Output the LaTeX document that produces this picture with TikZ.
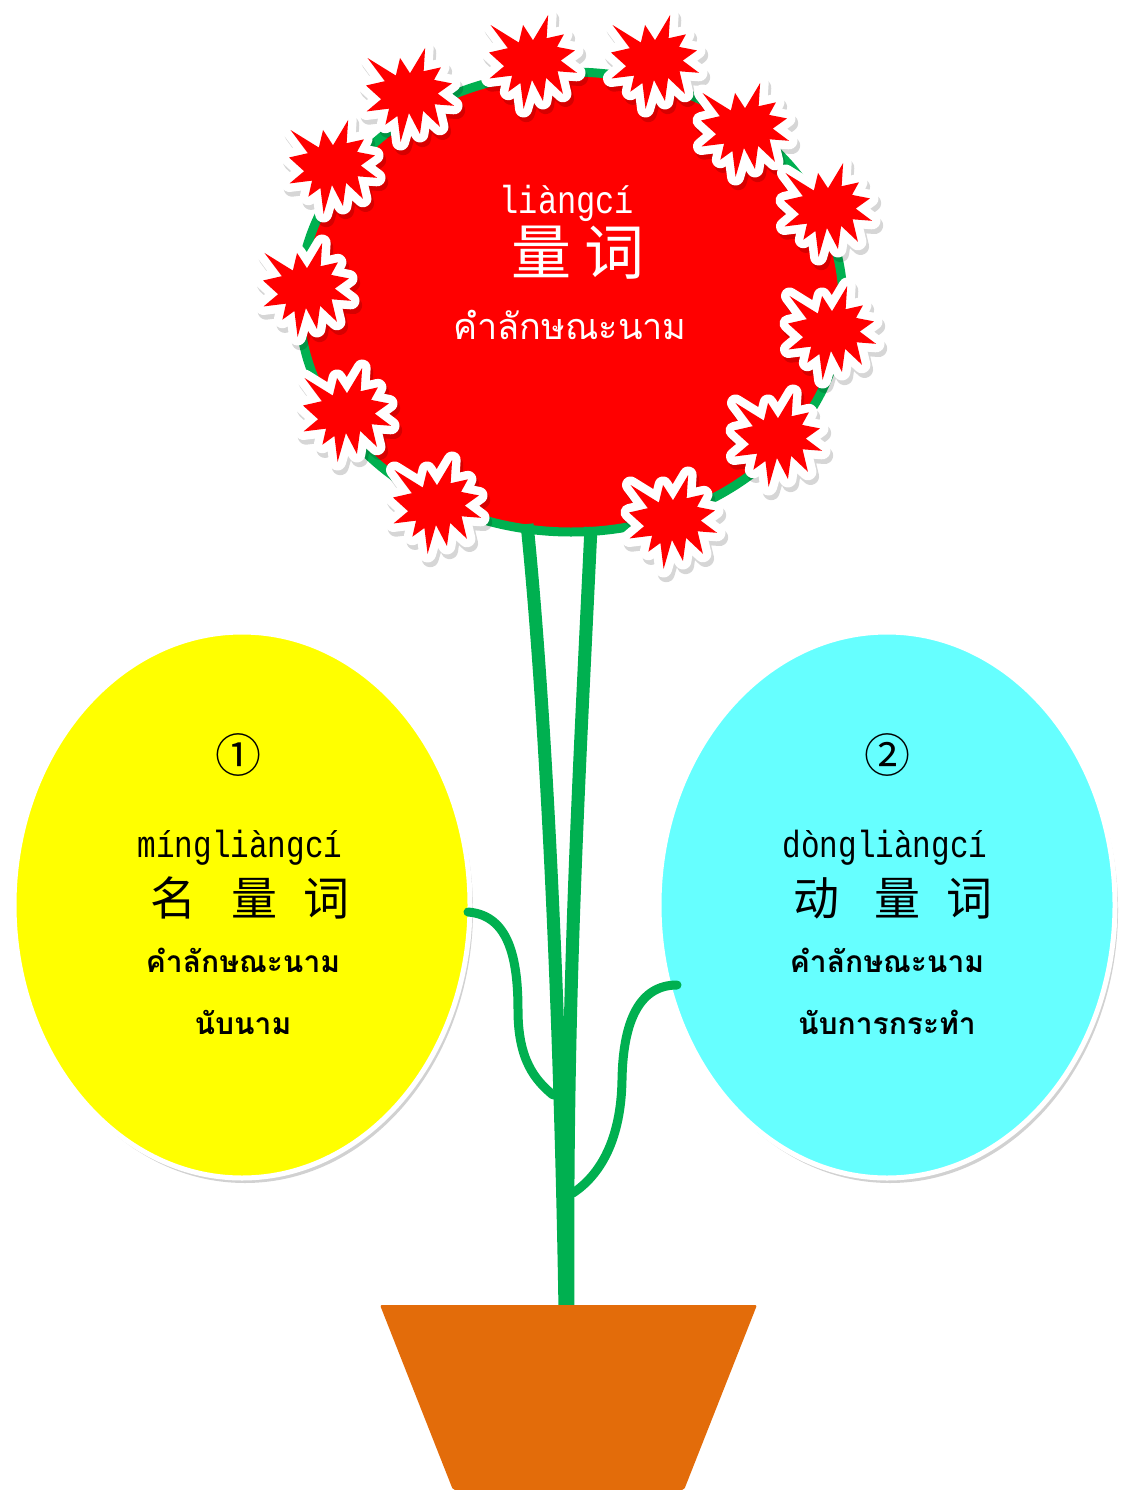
\documentclass[tikz,border=0pt]{standalone}
\usepackage{fontspec}
\newfontfamily\thaifont[Script=Thai]{Loma}
\newfontfamily\cjkfont{Noto Sans CJK SC}
\newfontfamily\pyfont{Liberation Mono}
\usetikzlibrary{shapes.geometric}

\definecolor{stemgreen}{HTML}{00B050}
\definecolor{bloomred}{HTML}{FF0000}
\definecolor{potorange}{HTML}{E36C0A}
\definecolor{leafyellow}{HTML}{FFFF00}
\definecolor{leafcyan}{HTML}{66FFFF}

\tikzset{
  stem/.style={draw=stemgreen, line width=13, line cap=butt},
  branch/.style={draw=stemgreen, line width=9, line cap=round},
  leaf/.style={ellipse, minimum width=456, minimum height=546, draw=white, line width=5, inner sep=0},
  leafshadow/.style={ellipse, minimum width=456, minimum height=546, fill=black, opacity=0.18, inner sep=0},
  txt/.style={inner sep=0, anchor=center},
  pinyin/.style={inner sep=0, anchor=center, yscale=1.22, transform shape},
  % one explosion-shaped petal: soft shadow, white rim, red body
  petal/.pic={
    \filldraw[black, opacity=0.16, line width=17, line join=round, shift={(3,5)}]
      (0,-23.1) -- (17.2,-50) -- (15.5,-25.3) -- (35.1,-29.4) -- (27.3,-16.1) -- (47.7,-12.3)
      -- (31.5,-1.5) -- (50,11.5) -- (27.9,9.9) -- (34.0,33.8) -- (14.9,16.9) -- (11.3,41.4)
      -- (-1.2,19.1) -- (-10.7,50) -- (-14.3,22.3) -- (-28.0,31.6) -- (-23.8,14.5) -- (-49.4,17.5)
      -- (-32.8,4.5) -- (-50,-10.1) -- (-28.6,-14.7) -- (-48.3,-39.4) -- (-16.1,-20.7) -- (-11.3,-39.4) -- cycle;
    \filldraw[white, line width=17, line join=round]
      (0,-23.1) -- (17.2,-50) -- (15.5,-25.3) -- (35.1,-29.4) -- (27.3,-16.1) -- (47.7,-12.3)
      -- (31.5,-1.5) -- (50,11.5) -- (27.9,9.9) -- (34.0,33.8) -- (14.9,16.9) -- (11.3,41.4)
      -- (-1.2,19.1) -- (-10.7,50) -- (-14.3,22.3) -- (-28.0,31.6) -- (-23.8,14.5) -- (-49.4,17.5)
      -- (-32.8,4.5) -- (-50,-10.1) -- (-28.6,-14.7) -- (-48.3,-39.4) -- (-16.1,-20.7) -- (-11.3,-39.4) -- cycle;
    \fill[bloomred]
      (0,-23.1) -- (17.2,-50) -- (15.5,-25.3) -- (35.1,-29.4) -- (27.3,-16.1) -- (47.7,-12.3)
      -- (31.5,-1.5) -- (50,11.5) -- (27.9,9.9) -- (34.0,33.8) -- (14.9,16.9) -- (11.3,41.4)
      -- (-1.2,19.1) -- (-10.7,50) -- (-14.3,22.3) -- (-28.0,31.6) -- (-23.8,14.5) -- (-49.4,17.5)
      -- (-32.8,4.5) -- (-50,-10.1) -- (-28.6,-14.7) -- (-48.3,-39.4) -- (-16.1,-20.7) -- (-11.3,-39.4) -- cycle;
  }
}

\begin{document}
\begin{tikzpicture}[x=1pt, y=-1pt]
\useasboundingbox (0,0) rectangle (1120,1490);

% leaves
\node[leafshadow] at (245,910) {};
\node[leafshadow] at (890,910) {};
\node[leaf, fill=leafyellow] (noun) at (242,905) {};
\node[leaf, fill=leafcyan] (verb) at (887,905) {};

% junction points on the stems
\coordinate (ltop) at (527,524);
\coordinate (rtop) at (591,527);
\coordinate (lbase) at (565,1310);
\coordinate (rbase) at (568,1310);
\coordinate (ljoin) at (553,1095);
\coordinate (rjoin) at (573,1193);
\coordinate (lstart) at (468,912);
\coordinate (rstart) at (677,985);

% side branches
\path[branch] (lstart) .. controls (505,915) and (518,950) .. (518,1010)
  .. controls (518,1060) and (535,1080) .. (ljoin);
\path[branch] (rstart) .. controls (640,985) and (623,1020) .. (622,1080)
  .. controls (621,1140) and (600,1175) .. (rjoin);

% flower head
\node[ellipse, minimum width=544, minimum height=460, fill=bloomred, draw=stemgreen,
      line width=9, inner sep=0] (bloom) at (571,302) {};

% stems
\path[stem] (ltop) .. controls (545,700) and (560,1000) .. (lbase);
\path[stem] (rtop) .. controls (578,800) and (566,1000) .. (rbase);

% petals around the head
\foreach \px/\py in {410/95, 533/62, 655/62, 745/130, 828/210, 832/333,
                     778/440, 673/522, 437/507, 347/415, 307/290, 333/167}
  \pic[xscale=0.88, yscale=0.94] at (\px,\py) {petal};

% pot
\fill[potorange, rounded corners=2] (380,1305) -- (757,1305) -- (684,1490) -- (453,1490) -- cycle;
\node[inner sep=0] (pot) at (568,1400) {};

% texts in the flower head
\node[pinyin, text=white] (hpy) at (567,203) {\pyfont\fontsize{32}{34}\selectfont liàngcí};
\node[txt, text=white] (hzh) at (578,253) {\cjkfont\fontsize{60}{62}\selectfont 量\hspace{14pt}词};
\node[txt, text=white] (hth) at (570,325) {\thaifont\fontsize{36}{40}\selectfont คำลักษณะนาม};

% texts in the left leaf
\node[txt] (n1) at (238,755) {\cjkfont\fontsize{46}{48}\selectfont ①};
\node[pinyin] (npy) at (240,848) {\pyfont\fontsize{31}{33}\selectfont míngliàngcí};
\node[txt] (nzh) at (250,898) {\cjkfont\fontsize{46}{48}\selectfont 名\hspace{36pt}量\hspace{26pt}词};
\node[txt] (nth) at (243,960) {\thaifont\bfseries\fontsize{30}{34}\selectfont คำลักษณะนาม};
\node[txt] (nth2) at (243,1022) {\thaifont\bfseries\fontsize{30}{34}\selectfont นับนาม};

% texts in the right leaf
\node[txt] (v2) at (887,755) {\cjkfont\fontsize{46}{48}\selectfont ②};
\node[pinyin] (vpy) at (885,848) {\pyfont\fontsize{31}{33}\selectfont dòngliàngcí};
\node[txt] (vzh) at (893,898) {\cjkfont\fontsize{46}{48}\selectfont 动\hspace{36pt}量\hspace{26pt}词};
\node[txt] (vth) at (887,960) {\thaifont\bfseries\fontsize{30}{34}\selectfont คำลักษณะนาม};
\node[txt] (vth2) at (887,1022) {\thaifont\bfseries\fontsize{30}{34}\selectfont นับการกระทำ};
\end{tikzpicture}
\end{document}
